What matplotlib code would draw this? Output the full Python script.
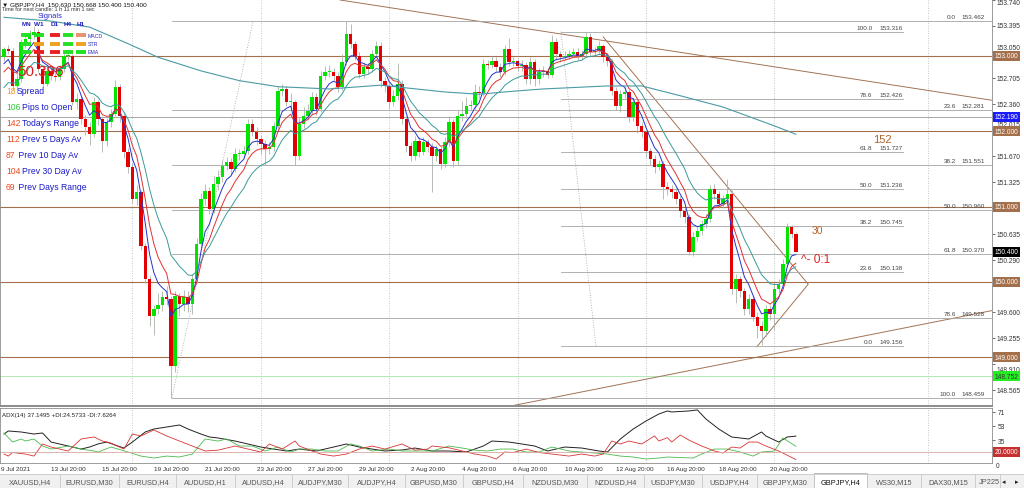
import numpy as np
import matplotlib.pyplot as plt
from matplotlib.lines import Line2D
from matplotlib.patches import Rectangle
import matplotlib.transforms as mtransforms

plt.rcParams['font.family'] = ['Liberation Sans', 'DejaVu Sans']

# ---- GBPJPY H4 candles ----
first_open = 152.98
closes = [153.09, 153.06, 152.60, 152.69, 153.18, 153.22, 153.28, 153.32, 152.83, 152.63,
          152.80, 152.73, 152.72, 152.83, 153.00, 153.00, 152.39, 152.43, 152.16, 152.06,
          151.96, 152.39, 152.16, 151.87, 152.12, 152.23, 152.59, 152.20, 151.72, 151.53,
          151.10, 151.19, 150.48, 150.04, 149.55, 149.64, 149.70, 149.80, 149.77, 148.89,
          149.81, 149.71, 149.80, 149.71, 150.04, 150.50, 151.10, 151.21, 150.97, 151.30,
          151.39, 151.54, 151.59, 151.50, 151.70, 151.70, 151.74, 152.10, 151.99, 151.90,
          151.83, 151.76, 151.79, 152.07, 152.53, 152.56, 152.39, 152.39, 151.67, 152.10,
          152.20, 152.27, 152.45, 152.29, 152.73, 152.79, 152.79, 152.73, 152.59, 152.92,
          153.29, 153.16, 153.00, 152.76, 152.85, 152.83, 153.02, 153.13, 152.67, 152.60,
          152.39, 152.47, 152.63, 152.16, 151.80, 151.67, 151.87, 151.72, 151.86, 151.79,
          151.67, 151.76, 151.57, 151.86, 152.12, 151.60, 152.20, 152.23, 152.33, 152.35,
          152.52, 152.51, 152.89, 152.88, 152.93, 152.85, 152.79, 153.09, 152.92, 152.93,
          152.86, 152.88, 152.69, 152.92, 152.69, 152.79, 152.80, 152.75, 153.18, 153.02,
          152.98, 153.00, 153.02, 153.05, 153.00, 153.02, 153.25, 153.05, 153.06, 153.13,
          152.98, 152.93, 152.53, 152.33, 152.49, 152.52, 152.19, 152.39, 152.07, 151.99,
          151.74, 151.63, 151.53, 151.57, 151.26, 151.23, 151.19, 151.10, 150.94, 150.86,
          150.40, 150.60, 150.68, 150.77, 150.84, 151.23, 151.17, 151.03, 151.10, 151.17,
          149.91, 150.04, 149.88, 149.64, 149.77, 149.54, 149.42, 149.35, 149.64, 149.58,
          149.91, 149.97, 150.24, 150.73, 150.63, 150.40]
highs = [153.12, 153.14, 153.10, 152.78, 153.22, 153.28, 153.34, 153.40, 153.36, 152.88,
         152.86, 152.85, 152.80, 152.88, 153.05, 153.06, 153.03, 152.50, 152.48, 152.22,
         152.12, 152.45, 152.42, 152.20, 152.18, 152.30, 152.68, 152.62, 152.25, 151.78,
         151.58, 151.28, 151.22, 150.52, 150.08, 149.70, 149.85, 149.88, 149.95, 149.82,
         149.88, 149.86, 149.90, 149.88, 150.10, 150.58, 151.18, 151.30, 151.26, 151.40,
         151.48, 151.62, 151.66, 151.64, 151.78, 151.76, 151.80, 152.16, 152.16, 152.05,
         151.95, 151.88, 151.85, 152.12, 152.60, 152.62, 152.60, 152.50, 152.42, 152.18,
         152.32, 152.36, 152.52, 152.50, 152.80, 152.86, 152.88, 152.84, 152.78, 153.02,
         153.46, 153.42, 153.20, 153.05, 152.92, 152.90, 153.08, 153.20, 153.18, 152.72,
         152.64, 152.54, 152.90, 152.68, 152.20, 151.86, 151.94, 151.92, 151.92, 151.90,
         151.84, 151.82, 151.80, 151.92, 152.20, 152.16, 152.28, 152.40, 152.45, 152.42,
         152.62, 152.60, 152.96, 152.95, 153.00, 152.98, 152.90, 153.14, 153.24, 152.98,
         152.96, 152.94, 152.92, 152.98, 152.96, 152.84, 152.86, 152.84, 153.28, 153.24,
         153.06, 153.06, 153.08, 153.10, 153.10, 153.08, 153.32, 153.30, 153.12, 153.20,
         153.16, 153.02, 152.96, 152.58, 152.54, 152.58, 152.56, 152.44, 152.42, 152.12,
         152.02, 151.78, 151.68, 151.62, 151.60, 151.32, 151.28, 151.24, 151.14, 150.98,
         150.90, 150.66, 150.74, 150.82, 150.90, 151.28, 151.30, 151.20, 151.16, 151.36,
         151.22, 150.10, 150.08, 149.92, 149.84, 149.82, 149.60, 149.48, 149.70, 149.70,
         149.98, 150.04, 150.30, 150.78, 150.76, 150.668]
lows = [152.93, 153.02, 152.55, 152.52, 152.65, 153.10, 153.18, 153.22, 152.78, 152.58,
        152.60, 152.68, 152.66, 152.68, 152.78, 152.94, 152.35, 152.30, 152.10, 151.95,
        151.82, 151.92, 152.08, 151.72, 151.80, 152.05, 152.20, 152.12, 151.65, 151.45,
        151.05, 151.02, 150.42, 149.98, 149.42, 149.30, 149.58, 149.62, 149.70, 148.46,
        148.80, 149.55, 149.62, 149.60, 149.58, 149.98, 150.45, 151.02, 150.90, 150.92,
        151.22, 151.32, 151.48, 151.42, 151.46, 151.62, 151.64, 151.70, 151.94, 151.82,
        151.70, 151.55, 151.70, 151.74, 152.02, 152.46, 152.33, 152.30, 151.55, 151.62,
        152.04, 152.15, 152.22, 152.22, 152.25, 152.68, 152.72, 152.68, 152.52, 152.55,
        152.88, 153.10, 152.94, 152.70, 152.70, 152.76, 152.78, 152.98, 152.58, 152.52,
        152.30, 152.34, 152.42, 152.10, 151.72, 151.60, 151.62, 151.66, 151.68, 151.72,
        151.19, 151.60, 151.50, 151.52, 151.80, 151.52, 151.55, 152.14, 152.18, 152.28,
        152.30, 152.44, 152.46, 152.82, 152.84, 152.80, 152.72, 152.74, 152.86, 152.86,
        152.80, 152.80, 152.62, 152.62, 152.60, 152.62, 152.72, 152.70, 152.72, 152.96,
        152.92, 152.94, 152.96, 152.98, 152.95, 152.96, 152.98, 153.00, 153.00, 153.02,
        152.92, 152.86, 152.48, 152.28, 152.26, 152.44, 152.12, 152.14, 151.98, 151.92,
        151.66, 151.55, 151.45, 151.48, 151.10, 151.16, 151.12, 151.04, 150.86, 150.78,
        150.36, 150.34, 150.54, 150.62, 150.72, 150.80, 151.10, 150.98, 150.98, 151.05,
        149.84, 149.72, 149.80, 149.56, 149.58, 149.48, 149.26, 149.16, 149.28, 149.50,
        149.36, 149.86, 149.92, 150.20, 150.58, 150.40]

# moving averages: periods and the values they start from at the left edge
ma_periods = [5, 8, 14]
ma_seeds = [152.80, 152.70, 152.50]
# slow MA, read at a few bars
slow_ma_bars = [0, 11, 20, 29, 36, 46, 55, 64, 76, 88, 103, 111, 119, 126, 141, 149, 158, 168, 180, 185]
slow_ma_vals = [153.51, 153.46, 153.38, 153.16, 152.98, 152.80, 152.67, 152.59, 152.56, 152.61,
                152.52, 152.49, 152.53, 152.56, 152.60, 152.60, 152.47, 152.32, 152.07, 151.96]

# ADX(14) panel
adx_bars = [0, 1, 4, 7, 9, 11, 15, 18, 20, 22, 24, 28, 30, 33, 35, 38, 41, 43, 46, 48, 50, 54, 57, 60, 63,
            66, 69, 73, 77, 80, 83, 86, 89, 93, 96, 100, 104, 108, 112, 114, 118, 121, 124, 127, 131,
            135, 139, 141, 144, 147, 150, 153, 155, 156, 160, 162, 164, 167, 170, 174, 177, 178, 181, 183, 185]
adx_vals = [42.7, 46.6, 45.3, 42.7, 44.0, 32.4, 27.3, 23.4, 26.0, 30.0, 32.4, 24.7, 32.4, 45.3, 49.1,
            51.7, 54.3, 49.1, 42.7, 38.9, 37.6, 33.7, 29.9, 26.0, 23.4, 20.9, 23.4, 20.9, 26.0, 29.9,
            26.0, 23.4, 20.9, 22.2, 24.7, 20.9, 20.9, 19.6, 27.3, 33.7, 32.4, 29.9, 27.3, 20.9, 26.0,
            24.7, 20.9, 19.6, 36.3, 49.1, 59.4, 68.4, 72.3, 71.0, 72.3, 73.6, 62.0, 49.1, 38.9, 36.3,
            45.3, 40.2, 32.4, 38.9, 40.0]
pdi_bars = [0, 2, 4, 5, 7, 9, 11, 15, 18, 21, 22, 25, 29, 32, 35, 38, 41, 44, 47, 50, 52, 55, 58, 61, 64,
            67, 69, 72, 75, 78, 81, 83, 86, 90, 93, 97, 100, 104, 107, 110, 113, 116, 119, 122, 125,
            128, 132, 135, 138, 141, 144, 147, 150, 153, 155, 158, 161, 163, 166, 169, 172, 175, 177,
            180, 182, 185]
pdi_vals = [44.0, 32.4, 36.3, 33.7, 36.3, 27.3, 23.4, 27.3, 23.4, 20.9, 19.6, 26.0, 19.6, 14.4, 11.9,
            14.4, 13.2, 17.0, 36.3, 33.7, 36.3, 27.3, 27.3, 20.9, 26.0, 19.6, 23.4, 23.4, 20.9, 20.9,
            29.9, 27.3, 20.9, 23.4, 20.9, 20.9, 20.9, 27.3, 24.7, 22.0, 20.9, 23.4, 23.4, 19.6, 19.6,
            26.0, 20.9, 19.6, 18.3, 17.0, 14.4, 13.2, 10.6, 11.9, 13.2, 12.5, 11.9, 17.0, 23.4, 23.4,
            19.6, 14.4, 19.6, 20.9, 37.6, 27.0]
mdi_bars = [0, 1, 2, 5, 7, 9, 11, 15, 18, 21, 23, 25, 28, 30, 32, 35, 38, 41, 44, 47, 50, 54, 57, 60, 62,
            65, 68, 69, 72, 74, 77, 80, 83, 86, 89, 93, 96, 99, 100, 104, 107, 110, 113, 115, 117, 119,
            122, 125, 128, 132, 135, 138, 140, 142, 144, 146, 149, 152, 153, 155, 156, 158, 160, 163,
            166, 168, 170, 172, 174, 176, 178, 181, 185]
mdi_vals = [17.0, 14.4, 19.0, 17.0, 14.4, 29.9, 26.0, 20.9, 36.3, 38.9, 33.7, 31.0, 23.4, 42.7, 40.2,
            47.9, 40.2, 33.7, 27.3, 20.9, 22.0, 27.3, 23.4, 19.6, 29.9, 23.4, 33.7, 27.3, 20.9, 17.0,
            14.4, 17.0, 23.4, 27.3, 23.4, 29.9, 22.0, 23.4, 27.3, 25.0, 21.0, 17.0, 14.4, 10.6, 19.6,
            19.0, 23.4, 19.0, 17.0, 14.4, 17.0, 14.4, 17.0, 33.7, 29.9, 33.7, 29.9, 40.2, 33.7, 38.0,
            32.4, 41.4, 35.0, 27.3, 20.9, 18.3, 26.0, 24.7, 32.4, 32.4, 27.3, 20.9, 10.0]
adx_level = 20.0

# drawings on the chart (bar index, price)
round_levels = [153.0, 152.0, 151.0, 150.0, 149.0]
grey_level = 152.190
green_level = 148.752
trend_long = [(78.5, 153.74), (230.8, 152.41)]
trend_steep = [(140.0, 153.25), (187.9, 149.97), (175.9, 149.14)]
trend_up = [(117.1, 148.34), (230.8, 149.62)]
fib1_anchor = [(39.25, 148.47), (58.2, 153.46)]
fib1_levels = ['0.0', '23.6', '38.2', '50.0', '61.8', '78.6', '100.0']
fib1_prices = [153.462, 152.281, 151.551, 150.960, 150.370, 149.528, 148.459]
fib2_anchor = [(130.1, 153.32), (138.3, 149.15)]
fib2_levels = ['100.0', '78.6', '61.8', '50.0', '38.2', '23.6', '0.0']
fib2_prices = [153.316, 152.426, 151.727, 151.236, 150.745, 150.138, 149.156]
fib2_end = 210.0
week_lines = [30, 60, 90, 120, 150, 180, 216]

price_ticks = [153.740, 153.395, 153.050, 152.705, 152.360, 152.015, 151.670, 151.325,
               150.980, 150.635, 150.290, 149.945, 149.600, 149.255, 148.910, 148.565]
box_prices = [153.000, 152.190, 152.000, 151.000, 150.400, 150.000, 149.000, 148.752]
adx_ticks = [71, 53, 35, 17]
date_bars = [-0.6, 11, 23, 35, 47, 59, 71, 83, 95, 107, 119, 131, 143, 155, 167, 179]
date_labels = ['9 Jul 2021', '13 Jul 20:00', '15 Jul 20:00', '19 Jul 20:00', '21 Jul 20:00',
               '23 Jul 20:00', '27 Jul 20:00', '29 Jul 20:00', '2 Aug 20:00', '4 Aug 20:00',
               '6 Aug 20:00', '10 Aug 20:00', '12 Aug 20:00', '16 Aug 20:00', '18 Aug 20:00',
               '20 Aug 20:00']

info_values = ['18', '106', '142', '112', '87', '104', '69']
info_names = ['Spread', 'Pips to Open', "Today's Range", 'Prev 5 Days Av', ' Prev 10 Day Av',
              'Prev 30 Day Av', ' Prev Days Range']
signal_frames = ['MN', 'W1', 'D1', 'H4', 'H1']
signal_rows = ['MACD', 'STR', 'EMA']
signal_states = [['up', 'up', 'down', 'up', 'weak'],
                 ['up', 'flat', 'flat', 'up', 'flat'],
                 ['up', 'down', 'down', 'up', 'up']]
tabs = ['XAUUSD,H4', 'EURUSD,M30', 'EURUSD,H4', 'AUDUSD,H1', 'AUDUSD,H4', 'AUDJPY,M30',
        'AUDJPY,H4', 'GBPUSD,M30', 'GBPUSD,H4', 'NZDUSD,M30', 'NZDUSD,H4', 'USDJPY,M30',
        'USDJPY,H4', 'GBPJPY,M30', 'GBPJPY,H4', 'WS30,M15', 'DAX30,M15', 'JP225']
active_tab = 'GBPJPY,H4'

# ---- figure layout (pixel based, 1024 x 489) ----
W, H = 1024, 489
fig = plt.figure(figsize=(W / 100, H / 100), dpi=100)


def fx(px):
    return px / W


def fy(py):
    return 1 - py / H


ax = fig.add_axes([0, fy(407), fx(992), 407 / H])
adx_ax = fig.add_axes([0, fy(464), fx(992), 55 / H], sharex=ax)

x_left, x_right = -0.935, 230.84
ax.set_xlim(x_left, x_right)
ax.set_ylim(148.355, 153.753)
adx_ax.set_ylim(5.5, 76.1)

brown = '#a4704c'
green_c = '#00e400'
red_c = '#e40000'

# candles
c = np.array(closes)
hi = np.array(highs)
lo = np.array(lows)
o = np.concatenate([[first_open], c[:-1]])
idx = np.arange(len(c))
up = c >= o
body_lo = np.minimum(o, c)
body_h = np.maximum(np.abs(c - o), 0.008)
ax.vlines(idx, lo, hi, color='#a9b3a9', lw=0.6, zorder=3)
ax.bar(idx, body_h, bottom=body_lo, width=0.8, color=np.where(up, green_c, red_c),
       linewidth=0, zorder=4)

# moving averages
for period, seed, col in zip(ma_periods, ma_seeds, ['#2233cc', '#e03030', '#3a9a9a']):
    alpha = 2 / (period + 1)
    e = seed
    vals = []
    for v in c:
        e = e + alpha * (v - e)
        vals.append(e)
    ax.plot(idx, vals, color=col, lw=0.7, zorder=5)
ax.plot(slow_ma_bars, slow_ma_vals, color='#4a9aa6', lw=0.8, zorder=5)

# horizontal levels
for lv in round_levels:
    ax.axhline(lv, color=brown, lw=0.8, zorder=2)
ax.axhline(grey_level, color='#9a9a9a', lw=0.6, zorder=2)
ax.axhline(green_level, color='#a6e8a6', lw=0.6, zorder=2)
for b in week_lines:
    ax.axvline(b, color='#b4b4b4', lw=0.6, ls=(0, (1, 2)), zorder=1)
    adx_ax.axvline(b, color='#b4b4b4', lw=0.6, ls=(0, (1, 2)), zorder=1)

# trend lines
for pts in [trend_long, trend_steep, trend_up]:
    xs, ys = zip(*pts)
    ax.plot(xs, ys, color='#a07456', lw=0.7, zorder=2)

# fibonacci retracements
for pts in [fib1_anchor, fib2_anchor]:
    xs, ys = zip(*pts)
    ax.plot(xs, ys, color='#9a9a9a', lw=0.6, ls=(0, (1, 2)), zorder=2)
for name, p in zip(fib1_levels, fib1_prices):
    ax.plot([fib1_anchor[0][0], x_right], [p, p], color='#a4a4a4', lw=0.6, zorder=2)
    ax.text(222.4, p + 0.025, name, fontsize=4.6, color='#444444', ha='right', va='bottom', zorder=6)
    ax.text(223.6, p + 0.025, f'{p:.3f}', fontsize=4.6, color='#444444', ha='left', va='bottom', zorder=6)
for name, p in zip(fib2_levels, fib2_prices):
    ax.plot([fib2_anchor[0][0], fib2_end], [p, p], color='#a4a4a4', lw=0.6, zorder=2)
    ax.text(202.9, p + 0.025, name, fontsize=4.6, color='#444444', ha='right', va='bottom', zorder=6)
    ax.text(204.6, p + 0.025, f'{p:.3f}', fontsize=4.6, color='#444444', ha='left', va='bottom', zorder=6)

# annotations
ax.text(203.0, 151.90, '152', fontsize=8, color='#b0622a', ha='left', va='center', zorder=6)
ax.text(188.6, 150.69, '30', fontsize=7.5, color='#b0622a', ha='left', va='center', zorder=6)
ax.text(186.2, 150.30, '^- 0:1', fontsize=8.6, color='#e02424', ha='left', va='center', zorder=6)

# price axis: ticks on the right, labels drawn as texts so the ones under a level box can move
ax.yaxis.tick_right()
ax.set_yticks(price_ticks)
ax.set_yticklabels([])
ax.tick_params(axis='y', length=2.5, width=0.5, colors='#333333')
ax.tick_params(axis='x', bottom=False, labelbottom=False)
blend = mtransforms.blended_transform_factory(ax.transAxes, ax.transData)
hidden = [150.980, 149.945]
nudge = {153.740: -3.0, 153.050: 4.5, 152.015: 5.5, 148.910: -5.5}
for t in price_ticks:
    if t in hidden:
        continue
    tr = mtransforms.offset_copy(blend, fig=fig, x=4.5, y=nudge.get(t, 0), units='dots')
    ax.text(1.0, t, f'{t:.3f}', transform=tr, fontsize=4.8, color='#333333', ha='left',
            va='center', clip_on=False, zorder=7)
box_cols = [brown, '#1a1aff', brown, brown, '#000000', brown, brown, '#22ee22']
txt_cols = ['white', 'white', 'white', 'white', 'white', 'white', 'white', '#333333']
for p, bc, tc in zip(box_prices, box_cols, txt_cols):
    ax.text(1.0025, p, f'{p:.3f}', transform=blend, fontsize=4.8, color=tc, ha='left', va='center',
            bbox=dict(boxstyle='square,pad=0.22', fc=bc, ec='none'), clip_on=False, zorder=8)
for sp in ax.spines.values():
    sp.set_color('#8c8c8c')
    sp.set_linewidth(0.6)
ax.spines['bottom'].set_linewidth(1.4)

# ADX panel
adx_ax.plot(adx_bars, adx_vals, color='#222222', lw=0.7)
adx_ax.plot(pdi_bars, pdi_vals, color='#4cb84c', lw=0.6)
adx_ax.plot(mdi_bars, mdi_vals, color='#d83434', lw=0.6)
adx_ax.axhline(adx_level, color='#d9a8a0', lw=0.6)
adx_ax.yaxis.tick_right()
adx_ax.set_yticks(adx_ticks)
adx_ax.set_yticklabels([str(t) if t != 17 else '' for t in adx_ticks])
adx_ax.tick_params(axis='y', labelsize=4.8, length=2.5, width=0.5, pad=1.5, colors='#333333')
adx_blend = mtransforms.blended_transform_factory(adx_ax.transAxes, adx_ax.transData)
adx_ax.text(1.004, 2.0, '0', transform=adx_blend, fontsize=4.8, color='#333333', ha='left',
            va='center', clip_on=False)
adx_ax.text(1.0025, adx_level, f'{adx_level:.4f}', transform=adx_blend, fontsize=4.8, color='white',
            ha='left', va='center', bbox=dict(boxstyle='square,pad=0.22', fc='#c83030', ec='none'),
            clip_on=False, zorder=8)
adx_ax.text(0.002, 0.93, 'ADX(14) 37.1495 +DI:24.5733 -DI:7.6264', transform=adx_ax.transAxes,
            fontsize=4.4, color='#222222', ha='left', va='top')
adx_ax.set_xticks(date_bars)
adx_ax.set_xticklabels(date_labels, ha='left')
adx_ax.tick_params(axis='x', labelsize=4.6, length=0, pad=2.5, colors='#333333')
for sp in adx_ax.spines.values():
    sp.set_color('#8c8c8c')
    sp.set_linewidth(0.6)

# ---- chart overlay (top-left) ----
fig.text(fx(2), fy(4.5), '\u25bc GBPJPY,H4  150.630 150.668 150.400 150.400', fontsize=4.6,
         color='#111111', va='center', family=['Liberation Sans', 'DejaVu Sans'])
fig.text(fx(2), fy(9.5), 'Time for next candle: 1 h 11 min 1 sec', fontsize=4.0, color='#333333',
         va='center')
fig.text(fx(38), fy(16), 'Signals', fontsize=5.4, color='#2a2ad0', va='center')
col_x = [26, 39, 55, 68, 81]
for name, xc in zip(signal_frames, col_x):
    fig.text(fx(xc), fy(25), name, fontsize=4.6, color='#2020c0', ha='center', va='center',
             fontweight='bold')
state_col = {'up': '#22e022', 'down': '#e82020', 'flat': '#f0a020', 'weak': '#e8906e'}
for r, (row, states) in enumerate(zip(signal_rows, signal_states)):
    yy = fy(36 + r * 8.5)
    for st, xc in zip(states, col_x):
        fig.add_artist(Line2D([fx(xc - 5), fx(xc + 5)], [yy, yy], lw=2.8, color=state_col[st],
                              solid_capstyle='butt'))
    fig.text(fx(88), yy, row, fontsize=3.8, color='#3030c0', va='center')
fig.text(fx(17), fy(72), '50.396', fontsize=11, color='#d82020', va='center')
num_cols = ['#f29b30', '#33cc33', '#ee4a22', '#ee4a22', '#ee4a22', '#ee4a22', '#ee4a22']
for k, (val, name) in enumerate(zip(info_values, info_names)):
    yy = fy(92 + k * 16)
    fig.text(fx(6), yy, val, fontsize=6.2, color=num_cols[k], va='center')
    fig.text(fx(6 + 5.2 * len(val)), yy, name, fontsize=6.2, color='#1a1ac8', va='center')

# ---- symbol tabs ----
fig.add_artist(Rectangle((0, 0), 1, 14 / H, transform=fig.transFigure, fc='#f0f0f0',
                         ec='none', zorder=0))
fig.add_artist(Line2D([0, 1], [14 / H, 14 / H], color='#c8c8c8', lw=0.6))
tab_edges = [0, 60, 119, 176, 235, 292, 348, 405, 463, 523, 587, 644, 702, 757, 814, 867, 921, 975, 1000]
for k, name in enumerate(tabs):
    x0, x1 = tab_edges[k], tab_edges[k + 1]
    if name == active_tab:
        fig.add_artist(Rectangle((fx(x0), 0), fx(x1 - x0), 15 / H, transform=fig.transFigure,
                                 fc='white', ec='#b0b0b0', lw=0.6))
    fig.add_artist(Line2D([fx(x1), fx(x1)], [0, 14 / H], color='#c8c8c8', lw=0.6))
    last = k == len(tabs) - 1
    fig.text(fx(x0 + 4 if last else (x0 + x1) / 2), 6.5 / H, name, fontsize=5.3,
             color='#111111' if name == active_tab else '#555555',
             ha='left' if last else 'center', va='center')
fig.text(fx(1004), 6.5 / H, '\u25c2', fontsize=5, color='#222222', ha='center', va='center',
         family=['DejaVu Sans'])
fig.text(fx(1017), 6.5 / H, '\u25b8', fontsize=5, color='#222222', ha='center', va='center',
         family=['DejaVu Sans'])

fig.savefig('out.png', dpi=100, facecolor='white')
